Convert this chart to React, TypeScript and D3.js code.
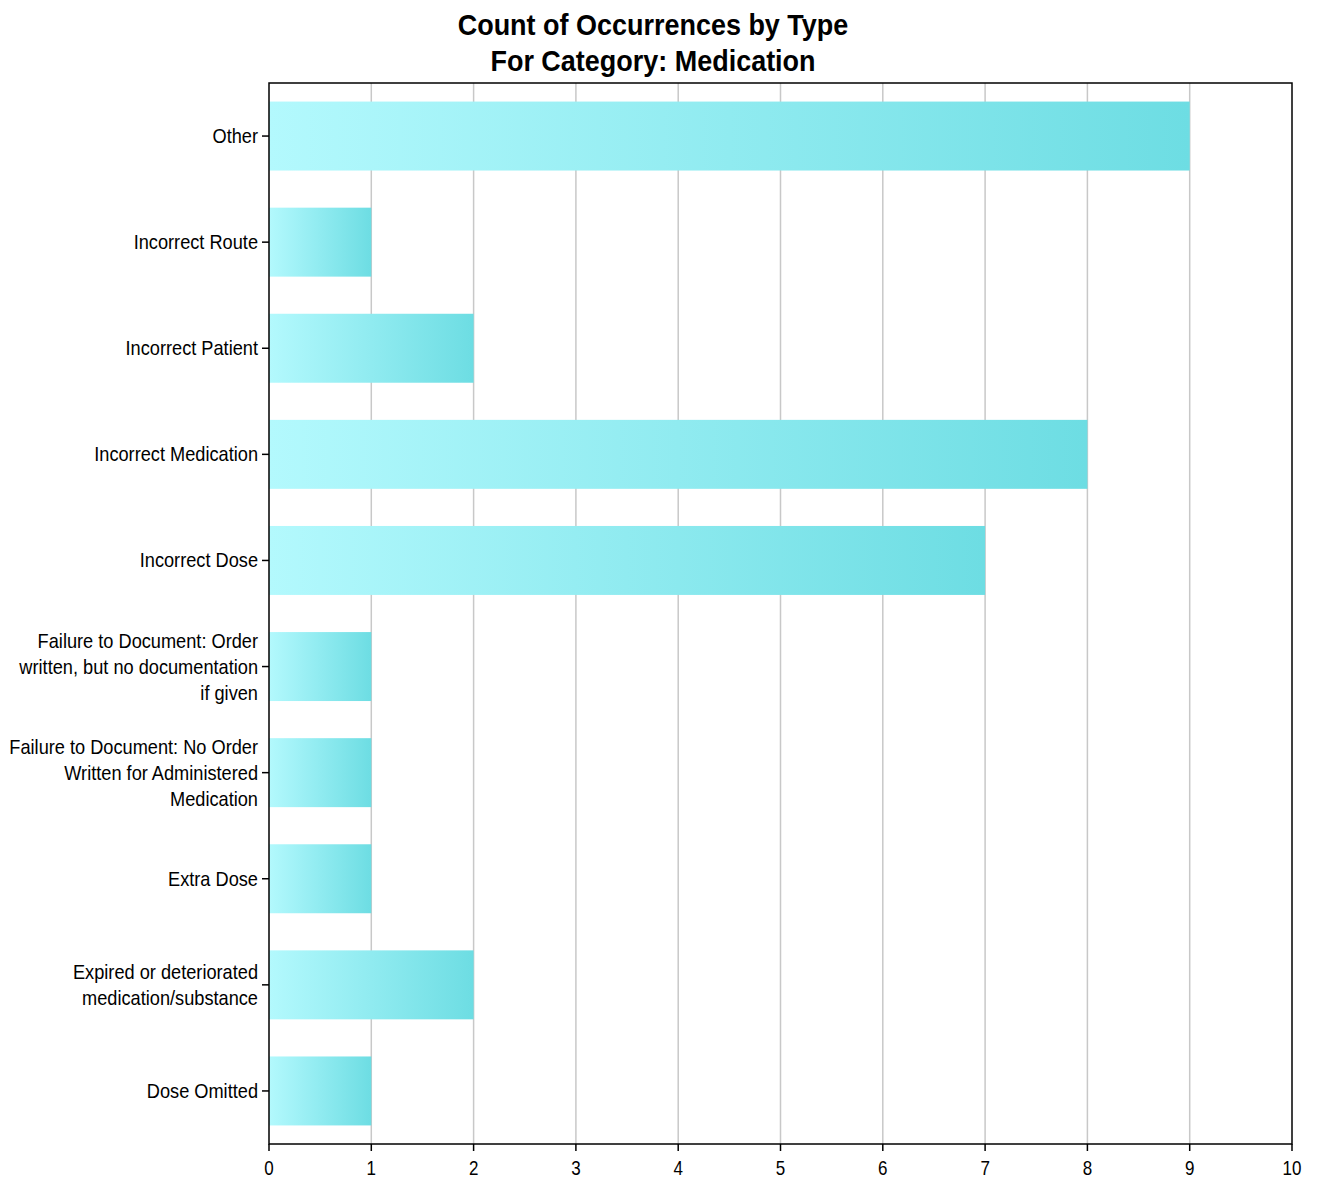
import React from "react";
import * as d3 from "d3";

const categories = [
  "Other",
  "Incorrect Route",
  "Incorrect Patient",
  "Incorrect Medication",
  "Incorrect Dose",
  "Failure to Document: Order\nwritten, but no documentation\nif given",
  "Failure to Document: No Order\nWritten for Administered\nMedication",
  "Extra Dose",
  "Expired or deteriorated\nmedication/substance",
  "Dose Omitted",
];
const counts = [9, 1, 2, 8, 7, 1, 1, 1, 2, 1];
const xTicks = [0, 1, 2, 3, 4, 5, 6, 7, 8, 9, 10];
const titleLines = ["Count of Occurrences by Type", "For Category: Medication"];

const W = 1319;
const H = 1179;
const M = { left: 269, right: 1292, top: 83, bottom: 1144 };
const FONT = "'Liberation Sans', Arial, sans-serif";

function NText({
  x,
  y,
  sx,
  anchor,
  size,
  bold,
  children,
}: {
  x: number;
  y: number;
  sx: number;
  anchor: string;
  size: number;
  bold?: boolean;
  children: React.ReactNode;
}) {
  return (
    <g transform={`translate(${x},${y}) scale(${sx},1)`}>
      <text
        x={0}
        y={0}
        textAnchor={anchor as any}
        fontFamily={FONT}
        fontSize={size}
        fontWeight={bold ? "bold" : "normal"}
        fill="#000"
      >
        {children}
      </text>
    </g>
  );
}

export default function App() {
  const x = d3.scaleLinear().domain([0, 10]).range([M.left, M.right]);
  const y = d3
    .scaleBand<string>()
    .domain(categories)
    .range([M.top, M.bottom])
    .paddingInner(0.35)
    .paddingOuter(0.175);
  const lineH = 26;

  return (
    <svg width={W} height={H} style={{ display: "block", position: "absolute", left: 0, top: 0, background: "#fff" }}>
      <defs>
        <linearGradient id="barGrad" x1="0" y1="0" x2="1" y2="0">
          <stop offset="0%" stopColor="#b3f9fd" />
          <stop offset="100%" stopColor="#6ddde3" />
        </linearGradient>
      </defs>
      <rect x={0} y={0} width={W} height={H} fill="#fff" />
      {titleLines.map((t, i) => (
        <NText key={i} x={653} y={35 + i * 36} sx={0.93} anchor="middle" size={29} bold>
          {t}
        </NText>
      ))}
      {xTicks.slice(1, -1).map((t) => (
        <line key={t} x1={x(t)} x2={x(t)} y1={M.top} y2={M.bottom} stroke="#c8c8c8" strokeWidth={1.5} />
      ))}
      {categories.map((c, i) => (
        <rect
          key={c}
          x={x(0)}
          y={y(c)}
          width={x(counts[i]) - x(0)}
          height={y.bandwidth()}
          fill="url(#barGrad)"
        />
      ))}
      <rect
        x={M.left}
        y={M.top}
        width={M.right - M.left}
        height={M.bottom - M.top}
        fill="none"
        stroke="#000"
        strokeWidth={1.5}
      />
      {xTicks.map((t) => (
        <g key={t}>
          <line x1={x(t)} x2={x(t)} y1={M.bottom} y2={M.bottom + 7} stroke="#000" strokeWidth={1.5} />
          <NText x={x(t)} y={M.bottom + 31} sx={0.85} anchor="middle" size={20}>
            {t}
          </NText>
        </g>
      ))}
      {categories.map((c) => {
        const cy = (y(c) as number) + y.bandwidth() / 2;
        const lines = c.split("\n");
        const y0 = cy - ((lines.length - 1) * lineH) / 2;
        return (
          <g key={c}>
            <line x1={M.left - 7} x2={M.left} y1={cy} y2={cy} stroke="#000" strokeWidth={1.5} />
            {lines.map((l, k) => (
              <NText key={k} x={M.left - 11} y={y0 + k * lineH + 7} sx={0.91} anchor="end" size={20}>
                {l}
              </NText>
            ))}
          </g>
        );
      })}
    </svg>
  );
}
